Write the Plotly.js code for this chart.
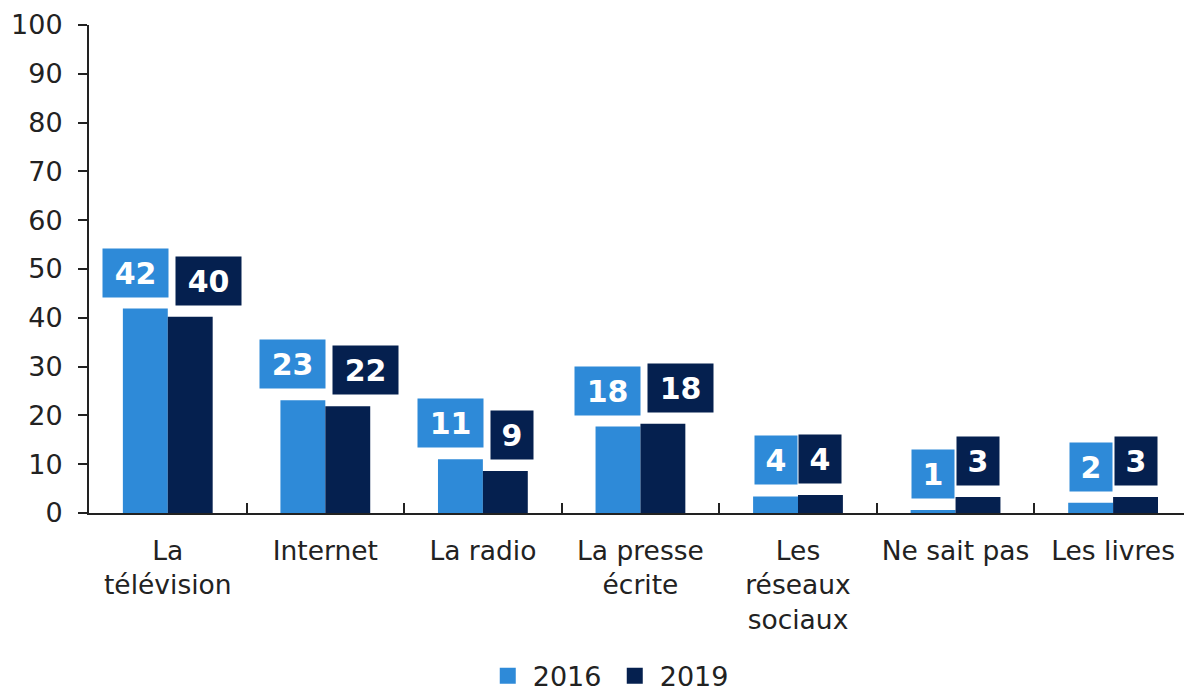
<!DOCTYPE html>
<html>
<head>
<meta charset="utf-8">
<script src="https://cdn.plot.ly/plotly-3.0.1.min.js"></script>
<style>html,body{margin:0;padding:0;background:#fff;}#chart{width:1184px;height:697px;}</style>
</head>
<body>
<div id="chart"></div>
<script>
// Data
const categories = ["La<br>télévision", "Internet", "La radio", "La presse<br>écrite", "Les<br>réseaux<br>sociaux", "Ne sait pas", "Les livres"];
const values2016 = [41.9, 23.1, 11.0, 17.7, 3.4, 0.6, 2.1];
const values2019 = [40.2, 21.9, 8.6, 18.3, 3.7, 3.3, 3.3];
const labels2016 = ["42", "23", "11", "18", "4", "1", "2"];
const labels2019 = ["40", "22", "9", "18", "4", "3", "3"];
const seriesNames = ["2016", "2019"];

const color2016 = "#2E8AD8";
const color2019 = "#05204F";
const bargap = 0.43;
const half = (1 - bargap) / 2; // width of one bar in category units

const traces = [
  {type: "bar", name: seriesNames[0], x: categories, y: values2016, marker: {color: color2016}, hoverinfo: "none", showlegend: false},
  {type: "bar", name: seriesNames[1], x: categories, y: values2019, marker: {color: color2019}, hoverinfo: "none", showlegend: false},
  // legend entries with larger square swatches
  {type: "scatter", mode: "markers", name: seriesNames[0], x: [null], y: [null], marker: {symbol: "square", size: 16, color: color2016}, showlegend: true},
  {type: "scatter", mode: "markers", name: seriesNames[1], x: [null], y: [null], marker: {symbol: "square", size: 16, color: color2019}, showlegend: true}
];

const annotations = [];
const boxFont = {family: "DejaVu Sans", size: 30, color: "#ffffff", weight: "bold"};
categories.forEach((c, i) => {
  const wide = labels2016[i].length > 1 || labels2019[i].length > 1;
  const mk = (label, val, col, which) => {
    const w = label.length > 1 ? 65 : 42;
    const a = {
      xref: "x", yref: "y", y: val, yanchor: "bottom", yshift: 11,
      text: label, showarrow: false, bgcolor: col, borderpad: 0,
      width: w, height: 48, font: boxFont, align: "center", valign: "middle"
    };
    if (wide) {
      a.x = i;
      if (which === 0) { a.xanchor = "right"; a.xshift = 1; }
      else { a.xanchor = "left"; a.xshift = 7; }
    } else {
      a.x = which === 0 ? i - half / 2 : i + half / 2;
      a.xanchor = "center";
    }
    return a;
  };
  annotations.push(mk(labels2016[i], values2016[i], color2016, 0));
  annotations.push(mk(labels2019[i], values2019[i], color2019, 1));
});

const layout = {
  width: 1184, height: 697,
  margin: {l: 89, r: 0, t: 25, b: 183.5},
  paper_bgcolor: "#ffffff", plot_bgcolor: "#ffffff",
  barmode: "group", bargap: bargap, bargroupgap: 0,
  font: {family: "DejaVu Sans", size: 26, color: "#222222"},
  xaxis: {
    type: "category", range: [-0.5, 6.45],
    showline: true, linecolor: "#222222", linewidth: 2,
    ticks: "inside", tickson: "boundaries", ticklen: 10, tickwidth: 2, tickcolor: "#222222",
    showgrid: false, zeroline: false, tickangle: 0,
    tickfont: {family: "DejaVu Sans", size: 26.5, color: "#222222"},
    ticklabelstandoff: 13, automargin: false
  },
  yaxis: {
    range: [0, 100], tickvals: [0,10,20,30,40,50,60,70,80,90,100],
    showline: true, linecolor: "#222222", linewidth: 2,
    ticks: "outside", ticklen: 9, tickwidth: 2, tickcolor: "#222222",
    showgrid: false, zeroline: false,
    tickfont: {family: "DejaVu Sans", size: 27, color: "#222222"},
    ticklabelstandoff: 10, automargin: false
  },
  showlegend: true,
  legend: {
    orientation: "h", xref: "container", x: 0.515, xanchor: "center",
    yref: "container", y: 0.03, yanchor: "middle",
    font: {family: "DejaVu Sans", size: 27, color: "#222222"},
    itemwidth: 40, entrywidth: 72, tracegroupgap: 0, bgcolor: "rgba(0,0,0,0)"
  },
  annotations: annotations
};

Plotly.newPlot("chart", traces, layout, {displayModeBar: false, staticPlot: true});
</script>
</body>
</html>
